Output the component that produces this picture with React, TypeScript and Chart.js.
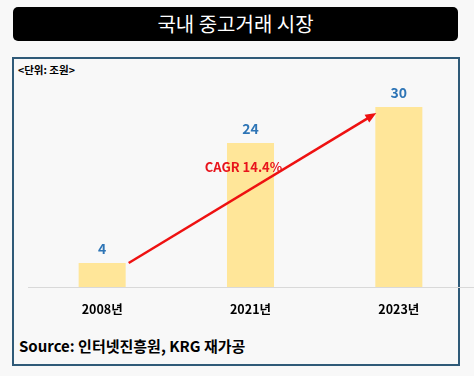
import React, { useEffect, useRef } from "react";
import { Chart, registerables } from "chart.js";

Chart.register(...registerables);

const categories = ["2008년", "2021년", "2023년"];
const values = [4, 24, 30];
const cagrLabel = "CAGR 14.4%";
const titleText = "국내 중고거래 시장";
const unitText = "<단위: 조원>";
const sourceText = "Source: 인터넷진흥원, KRG 재가공";

const FONT = "'Noto Sans CJK KR', 'Noto Sans', sans-serif";

export default function App() {
  const ref = useRef<HTMLCanvasElement | null>(null);

  useEffect(() => {
    if (!ref.current) return;
    const labelsPlugin = {
      id: "decor",
      afterDatasetsDraw(chart: any) {
        const ctx = chart.ctx;
        const meta = chart.getDatasetMeta(0);
        const y = chart.scales.y;
        ctx.save();
        ctx.fillStyle = "#2e75b6";
        ctx.font = `bold 14px ${FONT}`;
        ctx.textAlign = "center";
        ctx.textBaseline = "middle";
        meta.data.forEach((bar: any, i: number) => {
          ctx.fillText(String(values[i]), bar.x, bar.y - 14);
        });
        // arrow
        const b0 = meta.data[0];
        const b2 = meta.data[2];
        const x1 = b0.x + b0.width / 2 + 3;
        const y1 = y.getPixelForValue(values[0]);
        const x2 = b2.x - b2.width / 2 + 1;
        const y2 = y.getPixelForValue(values[2] - 1);
        const ang = Math.atan2(y2 - y1, x2 - x1);
        const head = 11;
        ctx.strokeStyle = "#ee1111";
        ctx.fillStyle = "#ee1111";
        ctx.lineWidth = 2.5;
        ctx.beginPath();
        ctx.moveTo(x1, y1);
        ctx.lineTo(x2 - Math.cos(ang) * head * 0.8, y2 - Math.sin(ang) * head * 0.8);
        ctx.stroke();
        ctx.beginPath();
        ctx.moveTo(x2, y2);
        ctx.lineTo(
          x2 - head * Math.cos(ang) + 4.5 * Math.sin(ang),
          y2 - head * Math.sin(ang) - 4.5 * Math.cos(ang)
        );
        ctx.lineTo(
          x2 - head * Math.cos(ang) - 4.5 * Math.sin(ang),
          y2 - head * Math.sin(ang) + 4.5 * Math.cos(ang)
        );
        ctx.closePath();
        ctx.fill();
        // CAGR label
        const mx = (x1 + x2) / 2 - 9;
        const my = (y1 + y2) / 2 - 21;
        ctx.fillStyle = "#e8141c";
        ctx.font = `bold 13px ${FONT}`;
        ctx.fillText(cagrLabel, mx, my);
        ctx.restore();
      },
    };

    const chart = new Chart(ref.current, {
      type: "bar",
      data: {
        labels: categories,
        datasets: [
          {
            data: values,
            backgroundColor: "#ffe699",
            barPercentage: 0.317,
            categoryPercentage: 1,
          },
        ],
      },
      options: {
        responsive: false,
        animation: false,
        layout: { padding: { left: 28, right: 1, top: 77, bottom: 52 } },
        plugins: { legend: { display: false }, tooltip: { enabled: false } },
        scales: {
          x: {
            grid: { display: false },
            border: { display: true, color: "#d9d9d9", width: 1 },
            ticks: {
              color: "#000",
              font: { family: FONT, weight: "bold", size: 12.5 },
              padding: 7,
            },
          },
          y: { display: false, min: 0, max: 35 },
        },
      },
      plugins: [labelsPlugin],
    } as any);
    return () => chart.destroy();
  }, []);

  return (
    <div
      style={{
        position: "absolute",
        left: 0,
        top: 0,
        width: 474,
        height: 376,
        background: "#f8f8f8",
        fontFamily: FONT,
        overflow: "hidden",
      }}
    >
      <div
        style={{
          position: "absolute",
          left: 13,
          top: 7,
          width: 445,
          height: 34,
          background: "#000",
          borderRadius: 5,
          color: "#fff",
          fontSize: 20,
          lineHeight: "34px",
          textAlign: "center",
        }}
      >
        {titleText}
      </div>
      <div
        style={{
          position: "absolute",
          left: 12,
          top: 57,
          width: 448,
          height: 309,
          border: "2px solid #2f5a78",
          boxSizing: "border-box",
        }}
      />
      <div
        style={{
          position: "absolute",
          left: 18,
          top: 63,
          fontSize: 10.5,
          fontWeight: "bold",
          color: "#000",
          lineHeight: "14px",
          whiteSpace: "nowrap",
        }}
      >
        {unitText}
      </div>
      <div
        style={{
          position: "absolute",
          left: 19,
          top: 336,
          fontSize: 15,
          fontWeight: "bold",
          color: "#000",
          lineHeight: "20px",
          whiteSpace: "nowrap",
        }}
      >
        {sourceText}
      </div>
      <canvas
        ref={ref}
        width={474}
        height={376}
        style={{ position: "absolute", left: 0, top: 0, width: 474, height: 376 }}
      />
    </div>
  );
}
